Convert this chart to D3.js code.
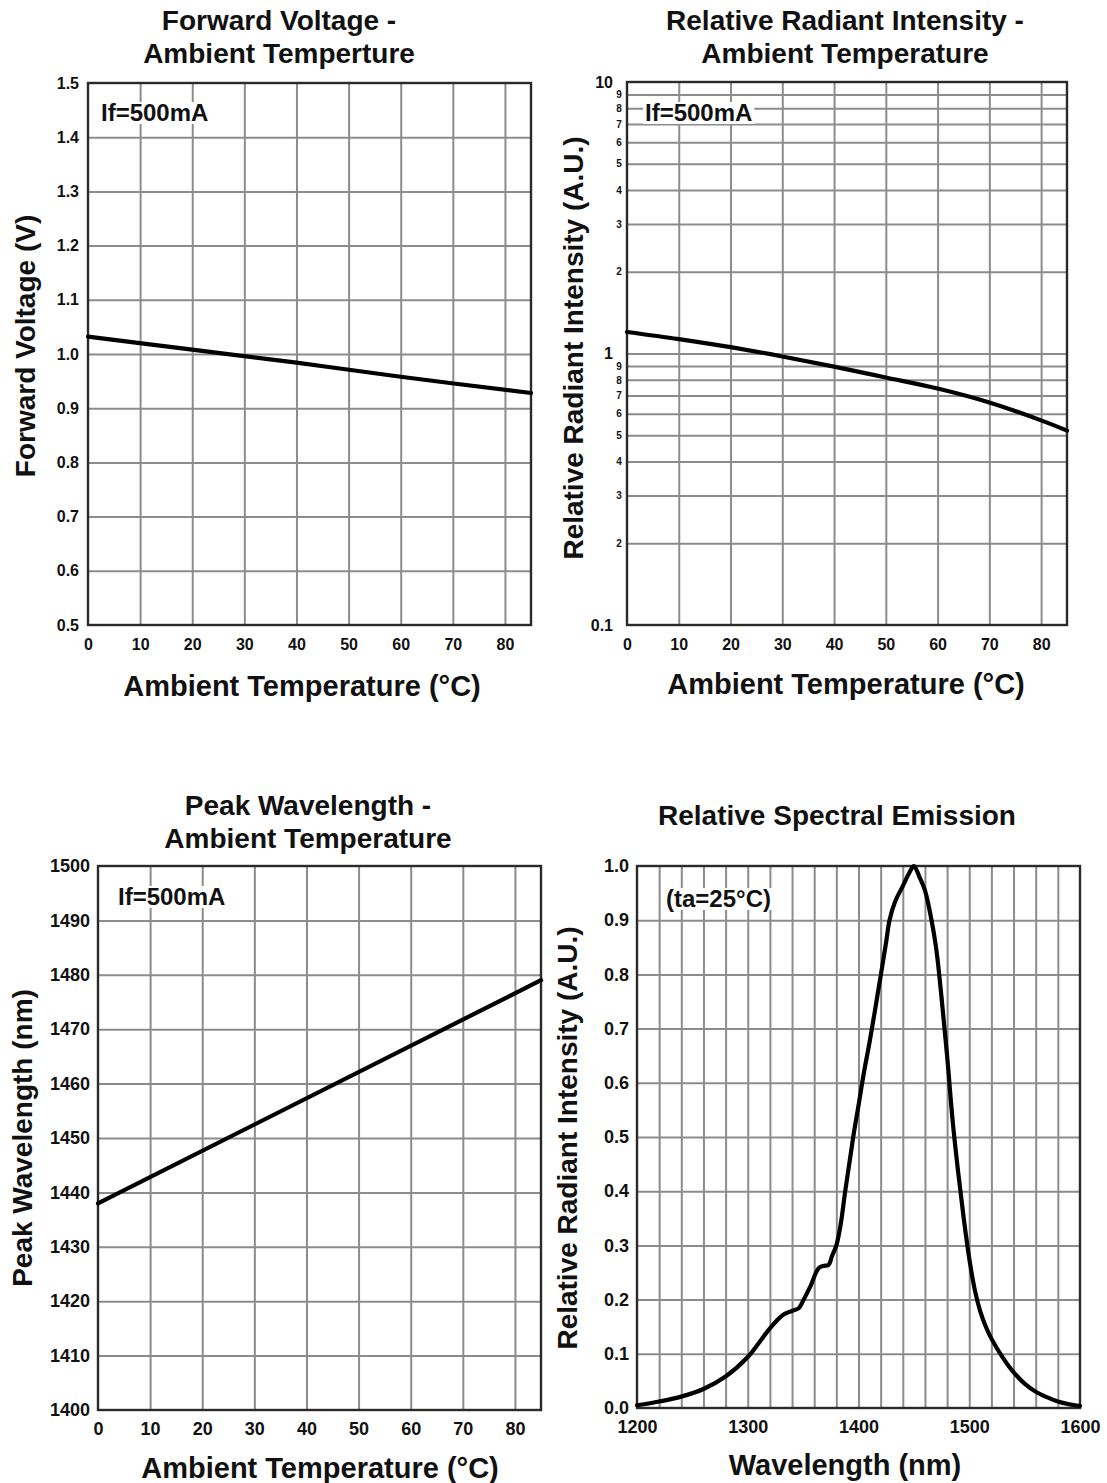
<!DOCTYPE html>
<html>
<head>
<meta charset="utf-8">
<script src="https://cdn.jsdelivr.net/npm/d3@7"></script>
<style>
body { margin: 0; background: #fff; }
text { font-family: "Liberation Sans", Arial, sans-serif; font-weight: bold; }
</style>
</head>
<body>
<svg id="chart" width="1107" height="1483"></svg>
<script>
// ---- data ----
var fvTemp = [0, 20, 40, 60, 85];
var fvVolt = [1.032, 1.008, 0.984, 0.958, 0.928];

var riTemp = [0, 10, 20, 30, 40, 50, 60, 70, 80, 85];
var riValue = [1.2, 1.13, 1.055, 0.975, 0.895, 0.816, 0.743, 0.66, 0.567, 0.52];

var pwTemp = [0, 85];
var pwNm = [1438, 1479];

var specNm = [1200, 1220, 1240, 1260, 1280, 1300, 1310, 1320, 1332, 1341, 1346, 1350, 1356, 1364, 1368,
              1373, 1376, 1380, 1384, 1388, 1392, 1396, 1400, 1405, 1410, 1415, 1420, 1425, 1428, 1433,
              1440, 1446, 1450, 1455, 1460, 1465, 1470, 1475, 1480, 1485, 1490, 1495, 1500, 1505, 1510,
              1515, 1520, 1530, 1540, 1550, 1560, 1570, 1580, 1590, 1600];
var specRel = [0.005, 0.012, 0.021, 0.035, 0.058, 0.094, 0.12, 0.147, 0.172, 0.18, 0.184, 0.198, 0.222, 0.258, 0.262,
               0.264, 0.28, 0.3, 0.34, 0.4, 0.455, 0.51, 0.558, 0.62, 0.675, 0.735, 0.797, 0.86, 0.9, 0.934,
               0.963, 0.988, 1.0, 0.98, 0.955, 0.91, 0.85, 0.757, 0.65, 0.53, 0.435, 0.35, 0.276, 0.218, 0.178,
               0.15, 0.128, 0.094, 0.066, 0.045, 0.03, 0.02, 0.012, 0.007, 0.004];

var tempTicks = [0, 10, 20, 30, 40, 50, 60, 70, 80];
var tempGrid = [10, 20, 30, 40, 50, 60, 70, 80];
var fvTicks = [0.5, 0.6, 0.7, 0.8, 0.9, 1.0, 1.1, 1.2, 1.3, 1.4, 1.5];
var riMajor = [0.1, 1, 10];
var riMinor = [0.2, 0.3, 0.4, 0.5, 0.6, 0.7, 0.8, 0.9, 2, 3, 4, 5, 6, 7, 8, 9];
var pwTicks = [1400, 1410, 1420, 1430, 1440, 1450, 1460, 1470, 1480, 1490, 1500];
var specTicks = [1200, 1300, 1400, 1500, 1600];
var specGrid = d3.range(1220, 1600, 20);
var relTicks = [0, 0.1, 0.2, 0.3, 0.4, 0.5, 0.6, 0.7, 0.8, 0.9, 1.0];

var GRID = "#8c8c8c";
var INK = "#111";
var FONT = '"Liberation Sans", Arial, sans-serif';

var svg = d3.select("#chart");

function styleAxis(s, size) {
  s.select(".domain").remove();
  s.attr("font-family", FONT).attr("font-size", size).attr("color", INK);
}

function drawPanel(p) {
  var g = svg.append("g");
  var left = p.x.range()[0], right = p.x.range()[1];
  var bottom = p.y.range()[0], top = p.y.range()[1];
  var w = right - left, h = bottom - top;

  // grid
  g.append("g").attr("transform", "translate(0," + bottom + ")")
    .call(d3.axisBottom(p.x).tickValues(p.xGrid).tickSize(-h).tickFormat(""))
    .call(function (s) {
      s.select(".domain").remove();
      s.selectAll("line").attr("stroke", GRID).attr("stroke-width", 2);
    });
  g.append("g").attr("transform", "translate(" + left + ",0)")
    .call(d3.axisLeft(p.y).tickValues(p.yGrid).tickSize(-w).tickFormat(""))
    .call(function (s) {
      s.select(".domain").remove();
      s.selectAll("line").attr("stroke", GRID).attr("stroke-width", 2);
    });

  // annotation with white backing
  var noteBox = g.append("rect").attr("fill", "#fff");
  var note = g.append("text")
    .attr("x", p.noteX).attr("y", p.noteY)
    .attr("font-size", 24).attr("fill", INK)
    .text(p.note);
  var bb = note.node().getBBox();
  noteBox.attr("x", bb.x - 2).attr("y", bb.y + 3)
    .attr("width", bb.width + 4).attr("height", bb.height - 5);

  // frame
  g.append("rect")
    .attr("x", left).attr("y", top).attr("width", w).attr("height", h)
    .attr("fill", "none").attr("stroke", "#2a2a2a").attr("stroke-width", 2.4);

  // curve
  var line = d3.line()
    .x(function (d) { return p.x(d[0]); })
    .y(function (d) { return p.y(d[1]); })
    .curve(d3.curveCatmullRom.alpha(0.5));
  g.append("path")
    .datum(d3.zip(p.xs, p.ys))
    .attr("d", line)
    .attr("fill", "none").attr("stroke", "#000")
    .attr("stroke-width", 4.2).attr("stroke-linejoin", "round").attr("stroke-linecap", "round");

  // tick labels
  g.append("g").attr("transform", "translate(0," + bottom + ")")
    .call(d3.axisBottom(p.x).tickValues(p.xTicks).tickSize(0).tickPadding(p.xPad).tickFormat(p.xFmt))
    .call(function (s) { styleAxis(s, p.tickFont); });
  g.append("g").attr("transform", "translate(" + left + ",0)")
    .call(d3.axisLeft(p.y).tickValues(p.yTicks).tickSize(0).tickPadding(p.yPad).tickFormat(p.yFmt))
    .call(function (s) { styleAxis(s, p.tickFont); });

  // titles
  p.title.forEach(function (t, i) {
    g.append("text")
      .attr("x", p.titleX).attr("y", p.titleY + i * 33)
      .attr("text-anchor", "middle").attr("font-size", 28).attr("fill", INK)
      .text(t);
  });
  g.append("text")
    .attr("x", p.xLabelX).attr("y", p.xLabelY)
    .attr("text-anchor", "middle").attr("font-size", 29).attr("fill", INK)
    .text(p.xLabel);
  g.append("text")
    .attr("transform", "translate(" + p.yLabelX + "," + p.yLabelY + ") rotate(-90)")
    .attr("text-anchor", "middle").attr("font-size", 28).attr("fill", INK)
    .text(p.yLabel);

  return g;
}

// Forward Voltage - Ambient Temperature
drawPanel({
  x: d3.scaleLinear().domain([0, 85]).range([88, 531]),
  y: d3.scaleLinear().domain([0.5, 1.5]).range([625, 83]),
  xs: fvTemp, ys: fvVolt,
  xGrid: tempGrid, yGrid: fvTicks.slice(1, -1),
  xTicks: tempTicks, yTicks: fvTicks,
  xFmt: d3.format("d"), yFmt: d3.format(".1f"),
  xPad: 14, yPad: 9, tickFont: 16,
  note: "If=500mA", noteX: 101, noteY: 121,
  title: ["Forward Voltage -", "Ambient Temperture"], titleX: 279, titleY: 30,
  xLabel: "Ambient Temperature (°C)", xLabelX: 302, xLabelY: 696,
  yLabel: "Forward Voltage (V)", yLabelX: 35, yLabelY: 346
});

// Relative Radiant Intensity - Ambient Temperature (log scale)
var riY = d3.scaleLog().domain([0.1, 10]).range([625, 82]);
var riPanel = drawPanel({
  x: d3.scaleLinear().domain([0, 85]).range([627, 1067]),
  y: riY,
  xs: riTemp, ys: riValue,
  xGrid: tempGrid, yGrid: [1].concat(riMinor),
  xTicks: tempTicks, yTicks: riMajor,
  xFmt: d3.format("d"), yFmt: function (d) { return d < 1 ? "0.1" : String(d); },
  xPad: 14, yPad: 14, tickFont: 16,
  note: "If=500mA", noteX: 645, noteY: 121,
  title: ["Relative Radiant Intensity -", "Ambient Temperature"], titleX: 845, titleY: 30,
  xLabel: "Ambient Temperature (°C)", xLabelX: 846, xLabelY: 694,
  yLabel: "Relative Radiant Intensity (A.U.)", yLabelX: 583, yLabelY: 348
});
riPanel.append("g").attr("transform", "translate(627,0)")
  .call(d3.axisLeft(riY).tickValues(riMinor).tickSize(0).tickPadding(5)
    .tickFormat(function (d) { return String(Math.round(d < 1 ? d * 10 : d)); }))
  .call(function (s) {
    styleAxis(s, 10);
    s.selectAll("text").attr("text-anchor", "middle").attr("x", -8);
  });

// Peak Wavelength - Ambient Temperature
drawPanel({
  x: d3.scaleLinear().domain([0, 85]).range([98, 541]),
  y: d3.scaleLinear().domain([1400, 1500]).range([1410, 866]),
  xs: pwTemp, ys: pwNm,
  xGrid: tempGrid, yGrid: pwTicks.slice(1, -1),
  xTicks: tempTicks, yTicks: pwTicks,
  xFmt: d3.format("d"), yFmt: d3.format("d"),
  xPad: 12, yPad: 8, tickFont: 18,
  note: "If=500mA", noteX: 118, noteY: 905,
  title: ["Peak Wavelength -", "Ambient Temperature"], titleX: 308, titleY: 815,
  xLabel: "Ambient Temperature (°C)", xLabelX: 320, xLabelY: 1478,
  yLabel: "Peak Wavelength (nm)", yLabelX: 32, yLabelY: 1138
});

// Relative Spectral Emission
drawPanel({
  x: d3.scaleLinear().domain([1200, 1600]).range([637, 1080]),
  y: d3.scaleLinear().domain([0, 1]).range([1408, 866]),
  xs: specNm, ys: specRel,
  xGrid: specGrid, yGrid: relTicks.slice(1, -1),
  xTicks: specTicks, yTicks: relTicks,
  xFmt: d3.format("d"), yFmt: d3.format(".1f"),
  xPad: 12, yPad: 8, tickFont: 18,
  note: "(ta=25°C)", noteX: 666, noteY: 907,
  title: ["Relative Spectral Emission"], titleX: 837, titleY: 825,
  xLabel: "Wavelength (nm)", xLabelX: 845, xLabelY: 1475,
  yLabel: "Relative Radiant Intensity (A.U.)", yLabelX: 577, yLabelY: 1138
});
</script>
</body>
</html>
